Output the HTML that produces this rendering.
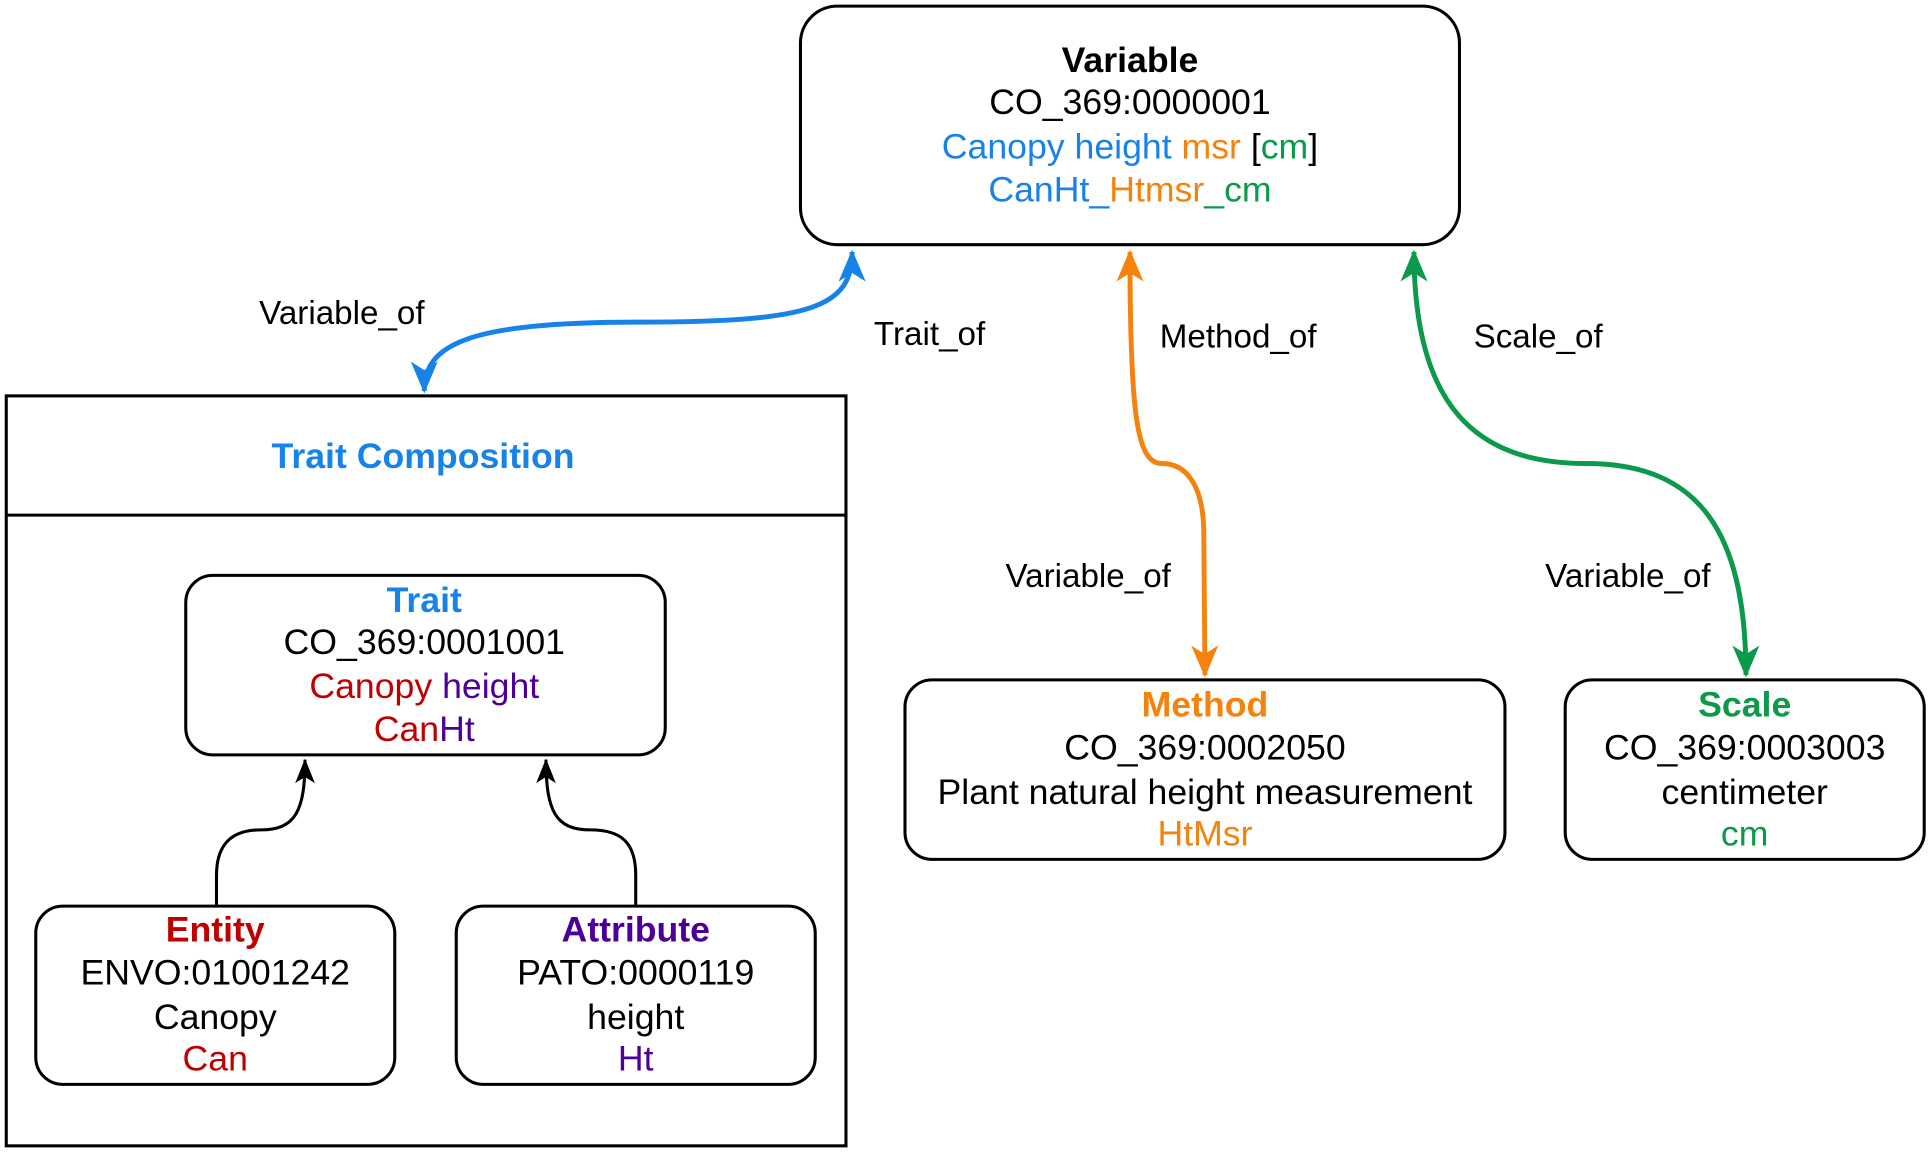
<!DOCTYPE html>
<html><head><meta charset="utf-8"><style>
html,body{margin:0;padding:0;background:#fff;}
svg{display:block;}
text{font-family:"Liberation Sans",sans-serif;text-anchor:middle;dominant-baseline:central;}
</style></head><body>
<svg width="1928" height="1152" viewBox="0 0 1568 937" xmlns="http://www.w3.org/2000/svg">
<defs>
<marker id="a-blue" viewBox="-2 -2 30 26" refX="24" refY="11" markerWidth="30" markerHeight="26" orient="auto-start-reverse" markerUnits="userSpaceOnUse"><path d="M0,0 L26,11 L0,22 L7,11 Z" fill="#1783e8"/></marker>
<marker id="a-or" viewBox="-2 -2 30 26" refX="24" refY="11" markerWidth="30" markerHeight="26" orient="auto-start-reverse" markerUnits="userSpaceOnUse"><path d="M0,0 L26,11 L0,22 L7,11 Z" fill="#f5820d"/></marker>
<marker id="a-gr" viewBox="-2 -2 30 26" refX="24" refY="11" markerWidth="30" markerHeight="26" orient="auto-start-reverse" markerUnits="userSpaceOnUse"><path d="M0,0 L26,11 L0,22 L7,11 Z" fill="#0b9a4a"/></marker>
<marker id="a-bk" viewBox="-2 -2 24 20" refX="19" refY="8" markerWidth="24" markerHeight="20" orient="auto" markerUnits="userSpaceOnUse"><path d="M0,0 L20,8 L0,16 L5,8 Z" fill="#000"/></marker>
</defs>

<!-- Variable -->
<rect x="651" y="5" width="536" height="194" rx="30" fill="#fff" stroke="#000" stroke-width="2.5"/>
<text x="919" y="49" font-size="29" font-weight="bold">Variable</text>
<text x="919" y="83" font-size="29">CO_369:0000001</text>
<text x="919" y="119" font-size="29"><tspan fill="#1783e8">Canopy height </tspan><tspan fill="#f5820d">msr </tspan><tspan>[</tspan><tspan fill="#0b9a4a">cm</tspan><tspan>]</tspan></text>
<text x="919" y="154" font-size="29"><tspan fill="#1783e8">CanHt_</tspan><tspan fill="#f5820d">Htmsr</tspan><tspan fill="#0b9a4a">_cm</tspan></text>

<!-- Trait composition -->
<rect x="5" y="322" width="683" height="610" fill="#fff" stroke="#000" stroke-width="2.5"/>
<line x1="5" y1="419" x2="688" y2="419" stroke="#000" stroke-width="2.5"/>
<text x="344" y="371" font-size="29" font-weight="bold" fill="#1783e8">Trait Composition</text>

<rect x="151" y="468" width="390" height="146" rx="22" fill="#fff" stroke="#000" stroke-width="2.5"/>
<text x="345" y="488" font-size="29" font-weight="bold" fill="#1783e8">Trait</text>
<text x="345" y="522" font-size="29">CO_369:0001001</text>
<text x="345" y="558" font-size="29"><tspan fill="#c00000">Canopy </tspan><tspan fill="#4c0099">height</tspan></text>
<text x="345" y="593" font-size="29"><tspan fill="#c00000">Can</tspan><tspan fill="#4c0099">Ht</tspan></text>

<rect x="29" y="737" width="292" height="145" rx="22" fill="#fff" stroke="#000" stroke-width="2.5"/>
<text x="175" y="756" font-size="29" font-weight="bold" fill="#c00000">Entity</text>
<text x="175" y="791" font-size="29">ENVO:01001242</text>
<text x="175" y="827" font-size="29">Canopy</text>
<text x="175" y="861" font-size="29" fill="#c00000">Can</text>

<rect x="371" y="737" width="292" height="145" rx="22" fill="#fff" stroke="#000" stroke-width="2.5"/>
<text x="517" y="756" font-size="29" font-weight="bold" fill="#4c0099">Attribute</text>
<text x="517" y="791" font-size="29">PATO:0000119</text>
<text x="517" y="827" font-size="29">height</text>
<text x="517" y="861" font-size="29" fill="#4c0099">Ht</text>

<!-- Method / Scale -->
<rect x="736" y="553" width="488" height="146" rx="22" fill="#fff" stroke="#000" stroke-width="2.5"/>
<text x="980" y="573" font-size="29" font-weight="bold" fill="#f5820d">Method</text>
<text x="980" y="608" font-size="29">CO_369:0002050</text>
<text x="980" y="644" font-size="29">Plant natural height measurement</text>
<text x="980" y="678" font-size="29" fill="#f5820d">HtMsr</text>

<rect x="1273" y="553" width="292" height="146" rx="22" fill="#fff" stroke="#000" stroke-width="2.5"/>
<text x="1419" y="573" font-size="29" font-weight="bold" fill="#0b9a4a">Scale</text>
<text x="1419" y="608" font-size="29">CO_369:0003003</text>
<text x="1419" y="644" font-size="29">centimeter</text>
<text x="1419" y="678" font-size="29" fill="#0b9a4a">cm</text>

<!-- Edges -->
<path d="M345,318 C345,280 380,262 520,262 C660,262 693,250 693,205" fill="none" stroke="#1783e8" stroke-width="4" marker-start="url(#a-blue)" marker-end="url(#a-blue)"/>
<path d="M980,549 L979,430 C978,395 965,377 945,377 C925,377 919,340 919,205" fill="none" stroke="#f5820d" stroke-width="4" marker-start="url(#a-or)" marker-end="url(#a-or)"/>
<path d="M1420,549 C1420,430 1380,377 1290,377 C1200,377 1150,330 1150,205" fill="none" stroke="#0b9a4a" stroke-width="4" marker-start="url(#a-gr)" marker-end="url(#a-gr)"/>
<path d="M176,737 L176,712 C176,685 190,675 212,675 C240,675 248,660 248,618" fill="none" stroke="#000" stroke-width="2.5" marker-end="url(#a-bk)"/>
<path d="M517,737 L517,712 C517,685 505,675 480,675 C452,675 444,660 444,618" fill="none" stroke="#000" stroke-width="2.5" marker-end="url(#a-bk)"/>

<text x="278" y="255" font-size="27">Variable_of</text>
<text x="756" y="272" font-size="27">Trait_of</text>
<text x="1007" y="274" font-size="27">Method_of</text>
<text x="1251" y="274" font-size="27">Scale_of</text>
<text x="885" y="469" font-size="27">Variable_of</text>
<text x="1324" y="469" font-size="27">Variable_of</text>
</svg>
</body></html>
